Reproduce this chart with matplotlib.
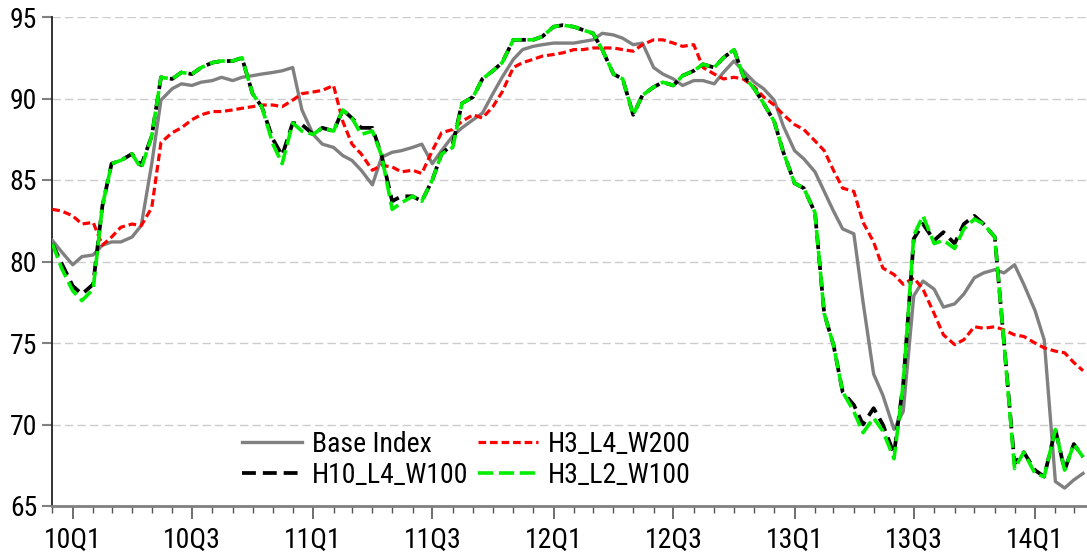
import matplotlib
matplotlib.use("Agg")
import matplotlib.pyplot as plt
import matplotlib.dates as mdates
import matplotlib.ticker as mticker
import pandas as pd
from matplotlib import font_manager

names = {f.name for f in font_manager.fontManager.ttflist}
preferred = ['Liberation Sans Narrow', 'Arial Narrow', 'Nimbus Sans Narrow',
             'Roboto Condensed', 'Archivo Narrow', 'PT Sans Narrow']
chosen = [n for n in preferred if n in names][:1]
plt.rcParams['font.family'] = chosen + ['Liberation Sans', 'DejaVu Sans']
plt.rcParams['lines.scale_dashes'] = False

# semi-monthly observation dates (1st and 15th), Dec 2009 .. Mar 2014
dates = pd.date_range('2009-12-01', periods=104, freq='SMS')

base_index = [81.3, 80.6, 79.8, 80.3, 80.4, 81.0, 81.2, 81.2, 81.5, 82.2,
              86.0, 89.9, 90.6, 90.9, 90.8, 91.0, 91.1, 91.3, 91.1, 91.3,
              91.4, 91.5, 91.6, 91.7, 91.9, 89.3, 87.8, 87.2, 87.0, 86.5,
              86.2, 85.6, 84.7, 86.4, 86.7, 86.8, 87.0, 87.2, 86.0, 86.8,
              87.7, 88.2, 88.7, 89.1, 90.3, 91.3, 92.4, 93.0, 93.2, 93.3,
              93.4, 93.4, 93.4, 93.5, 93.6, 94.0, 93.9, 93.7, 93.3, 93.4,
              91.9, 91.5, 91.2, 90.8, 91.1, 91.1, 90.9, 91.6, 92.3, 91.7,
              91.0, 90.6, 89.9, 88.3, 86.8, 86.3, 85.5, 84.3, 83.1, 82.0,
              81.7, 77.5, 73.1, 71.8, 69.7, 70.8, 77.9, 78.8, 78.3, 77.2,
              77.4, 78.0, 79.0, 79.3, 79.5, 79.3, 79.8, 78.6, 77.0, 75.2,
              66.5, 66.1, 66.6, 67.0]

h3_l4_w200 = [83.2, 83.1, 82.8, 82.3, 82.4, 81.0, 81.5, 82.1, 82.3, 82.2,
              83.3, 87.3, 87.9, 88.2, 88.7, 89.0, 89.2, 89.2, 89.3, 89.4,
              89.5, 89.6, 89.6, 89.5, 89.9, 90.3, 90.4, 90.5, 90.8, 88.6,
              87.2, 86.6, 85.6, 85.9, 85.8, 85.5, 85.6, 85.4, 86.8, 87.9,
              88.1, 88.6, 89.0, 88.8, 89.5, 90.4, 91.9, 92.2, 92.4, 92.6,
              92.7, 92.8, 93.0, 93.0, 93.1, 93.1, 93.1, 93.0, 92.9, 93.3,
              93.6, 93.6, 93.4, 93.2, 93.3, 91.9, 91.5, 91.2, 91.3, 91.2,
              90.7, 90.1, 89.6, 89.0, 88.4, 88.1, 87.4, 86.8, 85.6, 84.5,
              84.3, 82.4, 81.2, 79.6, 79.2, 78.6, 79.0, 78.3, 76.8, 75.5,
              74.9, 75.2, 76.0, 75.9, 76.0, 75.8, 75.5, 75.4, 75.0, 74.7,
              74.5, 74.4, 73.8, 73.3]

h10_l4_w100 = [81.1, 79.9, 78.5, 78.0, 78.6, 83.4, 86.0, 86.2, 86.6, 85.9,
               87.7, 91.3, 91.2, 91.6, 91.5, 91.9, 92.2, 92.3, 92.3, 92.5,
               90.3, 89.5, 87.5, 86.5, 88.5, 88.4, 87.8, 88.2, 88.0, 89.3,
               88.8, 88.2, 88.2, 86.5, 83.7, 84.0, 84.0, 83.7, 85.0, 86.6,
               87.2, 89.7, 90.1, 91.2, 91.7, 92.2, 93.6, 93.6, 93.6, 93.8,
               94.4, 94.5, 94.4, 94.2, 94.0, 93.0, 91.5, 91.2, 89.0, 90.2,
               90.7, 91.0, 90.8, 91.4, 91.7, 92.1, 91.9, 92.5, 93.0, 91.4,
               90.6, 89.7, 88.6, 86.7, 84.8, 84.5, 83.0, 76.8, 74.9, 72.0,
               71.2, 70.0, 71.0, 70.0, 68.2, 72.5, 81.4, 82.3, 81.3, 81.8,
               81.1, 82.3, 82.8, 82.3, 81.5, 75.0, 67.6, 68.3, 67.2, 66.8,
               69.7, 67.2, 68.8, 68.0]

h3_l2_w100 = [81.1, 79.6, 78.2, 77.6, 78.3, 83.4, 86.0, 86.2, 86.6, 85.7,
              87.7, 91.3, 91.2, 91.6, 91.5, 91.9, 92.2, 92.3, 92.3, 92.5,
              90.3, 89.5, 87.2, 86.0, 88.5, 88.0, 87.8, 88.2, 88.0, 89.3,
              88.8, 87.8, 88.0, 86.5, 83.2, 83.6, 84.0, 83.7, 85.0, 86.6,
              87.0, 89.7, 90.1, 91.2, 91.7, 92.2, 93.6, 93.6, 93.6, 93.8,
              94.4, 94.5, 94.4, 94.2, 94.0, 93.0, 91.5, 91.2, 89.0, 90.2,
              90.7, 91.0, 90.8, 91.4, 91.7, 92.1, 91.9, 92.5, 93.0, 91.4,
              90.6, 89.7, 88.6, 86.7, 84.8, 84.5, 83.0, 76.8, 74.9, 72.0,
              70.8, 69.5, 70.4, 69.6, 67.9, 72.5, 81.6, 82.8, 81.1, 81.3,
              80.8, 82.0, 82.6, 82.3, 81.5, 75.0, 67.3, 68.3, 67.0, 66.8,
              69.7, 67.2, 68.8, 68.0]

labels = ['Base Index', 'H3_L4_W200', 'H10_L4_W100', 'H3_L2_W100']

W, H = 1087, 556
FS = 20
fig = plt.figure(figsize=(W / 100, H / 100), dpi=100)
ax = fig.add_axes([52.3 / W, 1 - 506 / H, (W - 52.3) / W, (506 - 17) / H])

l_base, = ax.plot(dates, base_index, color='#808080', lw=2.4, zorder=3)
l_red, = ax.plot(dates, h3_l4_w200, color='#ff0000', lw=2.3, zorder=4,
                 dashes=(5.5, 2.8))
l_blk, = ax.plot(dates, h10_l4_w100, color='black', lw=2.7, zorder=5,
                 dashes=(10, 5))
l_grn, = ax.plot(dates, h3_l2_w100, color='#00ee00', lw=2.6, zorder=6,
                 dashes=(11, 4))

ax.set_ylim(65, 95)
ax.set_xlim(pd.Timestamp('2009-12-01'), pd.Timestamp('2014-03-21'))
ax.yaxis.set_major_locator(mticker.MultipleLocator(5))
ax.grid(axis='y', color='#cccccc', lw=1.0, dashes=(6, 3))
ax.set_axisbelow(True)

ax.xaxis.set_major_locator(mdates.MonthLocator(bymonth=[1, 7]))
ax.xaxis.set_minor_locator(mdates.MonthLocator())


def qfmt(x, pos=None):
    d = mdates.num2date(x)
    return f"{d.year % 100:02d}Q{(d.month - 1) // 3 + 1}"


ax.xaxis.set_major_formatter(mticker.FuncFormatter(qfmt))

for s in ['top', 'right']:
    ax.spines[s].set_visible(False)
ax.spines['left'].set_color('#222222')
ax.spines['left'].set_linewidth(1.3)
ax.spines['bottom'].set_color('#808080')
ax.spines['bottom'].set_linewidth(2.0)

ax.tick_params(axis='x', which='major', direction='out', length=9, width=1.2,
               color='#555555', labelsize=FS, pad=6)
ax.tick_params(axis='x', which='minor', direction='out', length=5, width=1.0,
               color='#555555')
ax.tick_params(axis='y', which='major', direction='out', length=7, width=1.5,
               color='#808080', labelsize=FS, pad=4)

leg = fig.legend([l_base, l_blk, l_red, l_grn],
                 [labels[0], labels[2], labels[1], labels[3]],
                 ncol=2, frameon=False, fontsize=FS, loc='upper left',
                 bbox_to_anchor=(242 / W, 1 - 431 / H),
                 handlelength=2.15, handletextpad=0.36, columnspacing=0.35,
                 labelspacing=0.14, borderpad=0, borderaxespad=0)

fig.savefig('out.png', dpi=100)
